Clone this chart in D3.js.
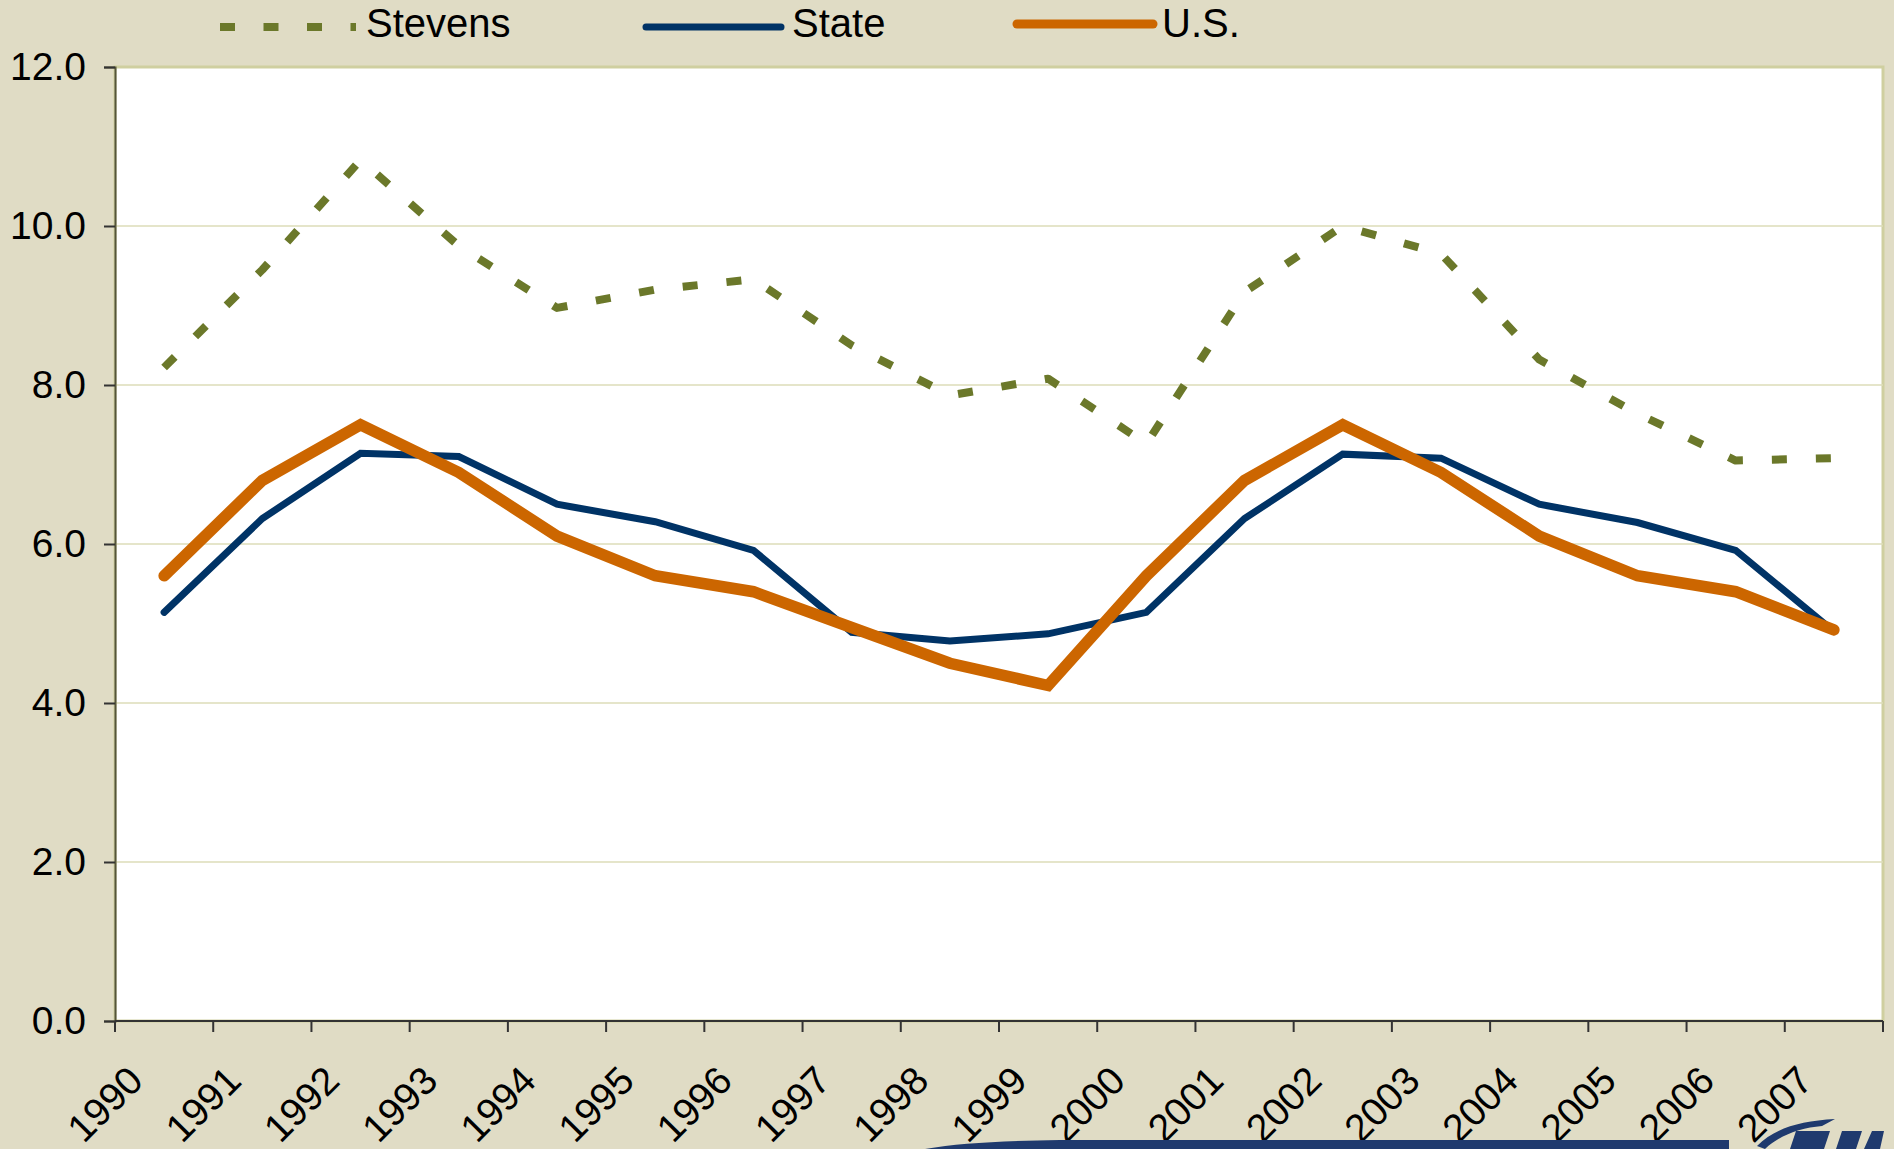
<!DOCTYPE html>
<html>
<head>
<meta charset="utf-8">
<script src="https://cdn.jsdelivr.net/npm/d3@7"></script>
<style>
  html, body { margin: 0; padding: 0; background: #e0dcc5; }
  svg { display: block; font-family: "Liberation Sans", Arial, sans-serif; }
</style>
</head>
<body>
<svg id="chart"></svg>
<script>
// data
const years = ["1990", "1991", "1992", "1993", "1994", "1995", "1996", "1997", "1998",
  "1999", "2000", "2001", "2002", "2003", "2004", "2005", "2006", "2007"];
const stevens = [8.22, 9.45, 10.83, 9.75, 8.97, 9.2, 9.33, 8.5, 7.87,
  8.08, 7.26, 9.17, 10.0, 9.65, 8.32, 7.64, 7.05, 7.08];
const state = [5.14, 6.32, 7.14, 7.1, 6.5, 6.28, 5.92, 4.89, 4.78,
  4.87, 5.14, 6.32, 7.13, 7.08, 6.5, 6.27, 5.92, 4.9];
const us = [5.6, 6.8, 7.5, 6.9, 6.1, 5.6, 5.4, 4.95, 4.5,
  4.22, 5.6, 6.8, 7.5, 6.9, 6.1, 5.6, 5.4, 4.92];
const yTicks = [0, 2, 4, 6, 8, 10, 12];
const seriesNames = ["Stevens", "State", "U.S."];

const width = 1894, height = 1149;
const plot = { left: 115, right: 1883, top: 67, bottom: 1021 };

const svg = d3.select("#chart").attr("width", width).attr("height", height);
svg.append("rect").attr("width", width).attr("height", height).attr("fill", "#e0dcc5");

// scales
const x = d3.scaleBand().domain(years).range([plot.left, plot.right]).padding(0);
const y = d3.scaleLinear().domain([0, 12]).range([plot.bottom, plot.top]);
const cx = d => x(d) + x.bandwidth() / 2;

// plot area
svg.append("rect")
  .attr("x", plot.left).attr("y", plot.top)
  .attr("width", plot.right - plot.left).attr("height", plot.bottom - plot.top)
  .attr("fill", "#ffffff")
  .attr("stroke", "#cfcfa0").attr("stroke-width", 3);

// grid lines
svg.append("g").selectAll("line").data(yTicks.filter(t => t > 0 && t < 12)).join("line")
  .attr("x1", plot.left).attr("x2", plot.right)
  .attr("y1", d => y(d)).attr("y2", d => y(d))
  .attr("stroke", "#dcdcb8").attr("stroke-width", 1.5);

// y axis
const axisY = d3.axisLeft(y).tickValues(yTicks).tickFormat(d3.format(".1f")).tickSize(11).tickPadding(18);
const gy = svg.append("g").attr("transform", `translate(${plot.left},0)`).call(axisY);
gy.select(".domain").attr("stroke", "#55553a").attr("stroke-width", 2);
gy.selectAll(".tick line").attr("stroke", "#333").attr("stroke-width", 2);
gy.selectAll("text").attr("font-size", 39).attr("fill", "#000")
  .attr("font-family", "'Liberation Sans', Arial, sans-serif");

// x axis: ticks between categories
const edges = years.map(d => x(d)).concat([plot.right]);
const gx = svg.append("g");
gx.append("line").attr("x1", plot.left).attr("x2", plot.right)
  .attr("y1", plot.bottom).attr("y2", plot.bottom)
  .attr("stroke", "#333").attr("stroke-width", 2);
gx.selectAll("line.tick").data(edges).join("line").attr("class", "tick")
  .attr("x1", d => d).attr("x2", d => d)
  .attr("y1", plot.bottom).attr("y2", plot.bottom + 11)
  .attr("stroke", "#333").attr("stroke-width", 2);
gx.selectAll("text").data(years).join("text")
  .attr("transform", d => `translate(${cx(d) - 19},${plot.bottom + 62}) rotate(-45)`)
  .attr("text-anchor", "end")
  .attr("font-size", 39).attr("fill", "#000")
  .text(d => d);

// lines
const line = d3.line().x((d, i) => cx(years[i])).y(d => y(d));
svg.append("path").datum(stevens).attr("d", line)
  .attr("fill", "none").attr("stroke", "#6b782a").attr("stroke-width", 8)
  .attr("stroke-dasharray", "15,29").attr("stroke-linejoin", "round");
svg.append("path").datum(state).attr("d", line)
  .attr("fill", "none").attr("stroke", "#003366").attr("stroke-width", 7)
  .attr("stroke-linecap", "round").attr("stroke-linejoin", "miter");
svg.append("path").datum(us).attr("d", line)
  .attr("fill", "none").attr("stroke", "#cc6600").attr("stroke-width", 11.5)
  .attr("stroke-linecap", "round").attr("stroke-linejoin", "miter");

// legend
const legend = svg.append("g");
const legendItems = [
  { name: seriesNames[0], x1: 220, x2: 356, y: 27, color: "#6b782a", w: 8, dash: "15,28.5", cap: "butt", tx: 366 },
  { name: seriesNames[1], x1: 646, x2: 781, y: 27, color: "#003366", w: 7, dash: null, cap: "round", tx: 792 },
  { name: seriesNames[2], x1: 1017, x2: 1153, y: 24, color: "#cc6600", w: 9, dash: null, cap: "round", tx: 1162 }
];
legendItems.forEach(item => {
  legend.append("line")
    .attr("x1", item.x1).attr("x2", item.x2).attr("y1", item.y).attr("y2", item.y)
    .attr("stroke", item.color).attr("stroke-width", item.w)
    .attr("stroke-linecap", item.cap)
    .attr("stroke-dasharray", item.dash);
  legend.append("text").attr("x", item.tx).attr("y", 37)
    .attr("font-size", 40).attr("fill", "#000").text(item.name);
});

// footer swoosh and logo shapes (mostly cut off at the bottom of the slide)
const navy = "#1f3a6e";
svg.append("path")
  .attr("d", "M925,1149 C960,1143 1000,1141 1060,1140 L1729,1140 L1729,1149 Z")
  .attr("fill", navy);
svg.append("path")
  .attr("d", "M1757,1146 C1775,1128 1800,1121 1835,1119 L1822,1126 C1800,1128 1780,1135 1765,1149 Z")
  .attr("fill", navy);
svg.append("path")
  .attr("d", "M1790,1149 L1796,1131 L1830,1131 L1824,1149 Z M1836,1149 L1842,1131 L1862,1131 L1856,1149 Z M1864,1149 L1872,1131 L1884,1131 L1880,1149 Z")
  .attr("fill", navy);
</script>
</body>
</html>
